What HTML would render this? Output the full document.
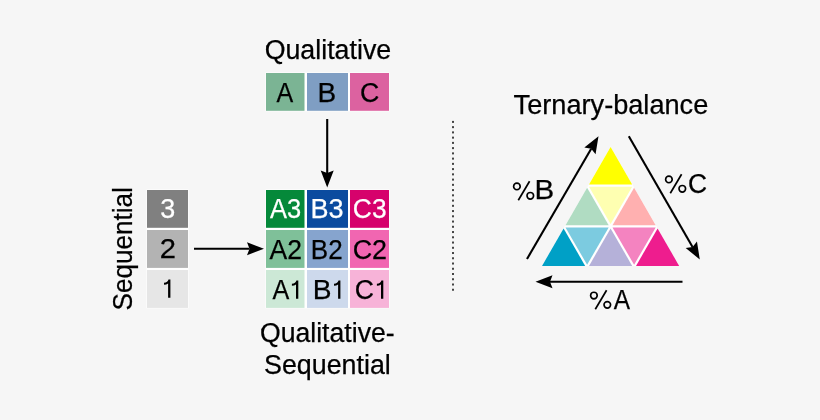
<!DOCTYPE html>
<html><head><meta charset="utf-8"><style>
html,body{margin:0;padding:0;background:#f6f6f6;width:820px;height:420px;overflow:hidden}
svg{display:block;will-change:transform}
text{font-family:"Liberation Sans",sans-serif;stroke:currentColor;stroke-width:0.25px}
</style></head><body>
<svg width="820" height="420" viewBox="0 0 820 420">
<rect width="820" height="420" fill="#f6f6f6"/>
<text x="264.64" y="58.90" font-size="27" fill="#000" style="color:#000" textLength="126.55" lengthAdjust="spacingAndGlyphs">Qualitative</text>
<rect x="265.50" y="72.50" width="124.00" height="38.80" fill="#fff"/>
<rect x="266.00" y="73.00" width="38.50" height="37.80" fill="#7bb494"/>
<rect x="307.00" y="73.00" width="41.00" height="37.80" fill="#7f9ec3"/>
<rect x="350.00" y="73.00" width="39.00" height="37.80" fill="#dc62a0"/>
<text x="276.55" y="101.80" font-size="27" fill="#000" style="color:#000" textLength="16.70" lengthAdjust="spacingAndGlyphs">A</text>
<text x="317.50" y="101.80" font-size="27" fill="#000" style="color:#000" textLength="18.68" lengthAdjust="spacingAndGlyphs">B</text>
<text x="359.94" y="101.80" font-size="27" fill="#000" style="color:#000" textLength="19.28" lengthAdjust="spacingAndGlyphs">C</text>
<rect x="265.50" y="189.50" width="124.00" height="118.90" fill="#fff"/>
<rect x="266.00" y="190.00" width="38.50" height="37.80" fill="#05893a"/>
<rect x="307.00" y="190.00" width="41.00" height="37.80" fill="#0b4b9f"/>
<rect x="350.00" y="190.00" width="39.00" height="37.80" fill="#d6026c"/>
<rect x="266.00" y="230.00" width="38.50" height="37.90" fill="#7fc099"/>
<rect x="307.00" y="230.00" width="41.00" height="37.90" fill="#86a4ce"/>
<rect x="350.00" y="230.00" width="39.00" height="37.90" fill="#f166b1"/>
<rect x="266.00" y="270.00" width="38.50" height="37.90" fill="#cce8d6"/>
<rect x="307.00" y="270.00" width="41.00" height="37.90" fill="#cdd9ec"/>
<rect x="350.00" y="270.00" width="39.00" height="37.90" fill="#f7b3d8"/>
<text x="269.95" y="218.20" font-size="27" fill="#fff" style="color:#fff" textLength="31.18" lengthAdjust="spacingAndGlyphs">A3</text>
<text x="310.48" y="218.20" font-size="27" fill="#fff" style="color:#fff" textLength="33.12" lengthAdjust="spacingAndGlyphs">B3</text>
<text x="352.85" y="218.20" font-size="27" fill="#fff" style="color:#fff" textLength="33.71" lengthAdjust="spacingAndGlyphs">C3</text>
<text x="269.55" y="258.90" font-size="27" fill="#000" style="color:#000" textLength="32.49" lengthAdjust="spacingAndGlyphs">A2</text>
<text x="310.87" y="258.90" font-size="27" fill="#000" style="color:#000" textLength="31.84" lengthAdjust="spacingAndGlyphs">B2</text>
<text x="352.63" y="258.90" font-size="27" fill="#000" style="color:#000" textLength="34.43" lengthAdjust="spacingAndGlyphs">C2</text>
<text x="272.45" y="298.80" font-size="27" fill="#000" style="color:#000" textLength="16.80" lengthAdjust="spacingAndGlyphs">A</text>
<path d="M298.30,298.80 V280.40 H296.40 Q295.70,283.20 291.90,283.80 V285.80 Q294.30,285.80 296.00,284.60 V298.80 Z" fill="#000"/>
<text x="312.69" y="298.80" font-size="27" fill="#000" style="color:#000" textLength="18.81" lengthAdjust="spacingAndGlyphs">B</text>
<path d="M340.40,298.80 V280.40 H338.50 Q337.80,283.20 334.00,283.80 V285.80 Q336.40,285.80 338.10,284.60 V298.80 Z" fill="#000"/>
<text x="354.75" y="298.80" font-size="27" fill="#000" style="color:#000" textLength="19.17" lengthAdjust="spacingAndGlyphs">C</text>
<path d="M383.30,298.80 V280.40 H381.40 Q380.70,283.20 376.90,283.80 V285.80 Q379.30,285.80 381.00,284.60 V298.80 Z" fill="#000"/>
<rect x="146.50" y="189.50" width="42.00" height="118.90" fill="#fff"/>
<rect x="147.00" y="190.00" width="41.00" height="37.80" fill="#808080"/>
<rect x="147.00" y="230.00" width="41.00" height="37.90" fill="#b3b3b3"/>
<rect x="147.00" y="270.00" width="41.00" height="37.90" fill="#e6e6e6"/>
<text x="160.17" y="218.30" font-size="27" fill="#fff" style="color:#fff" textLength="15.02" lengthAdjust="spacingAndGlyphs">3</text>
<text x="159.74" y="257.70" font-size="27" fill="#000" style="color:#000" textLength="16.22" lengthAdjust="spacingAndGlyphs">2</text>
<path d="M170.40,297.80 V279.40 H168.50 Q167.80,282.20 164.00,282.80 V284.80 Q166.40,284.80 168.10,283.60 V297.80 Z" fill="#000"/>
<line x1="327.20" y1="119.00" x2="327.20" y2="173.00" stroke="#000" stroke-width="2.1"/>
<polygon points="327.20,187.50 333.70,170.50 327.20,173.00 320.70,170.50" fill="#000"/>
<line x1="194.00" y1="248.70" x2="249.50" y2="248.70" stroke="#000" stroke-width="2.1"/>
<polygon points="264.00,248.70 247.00,242.20 249.50,248.70 247.00,255.20" fill="#000"/>
<g transform="translate(131.9,309.3) rotate(-90)"><text x="-1.20" y="0" font-size="27" textLength="123.35" lengthAdjust="spacingAndGlyphs">Sequential</text></g>
<text x="259.95" y="342.00" font-size="27" fill="#000" style="color:#000" textLength="134.71" lengthAdjust="spacingAndGlyphs">Qualitative-</text>
<text x="264.07" y="374.20" font-size="27" fill="#000" style="color:#000" textLength="126.73" lengthAdjust="spacingAndGlyphs">Sequential</text>
<rect x="452" y="120.90" width="2" height="2" fill="#444"/>
<rect x="452" y="126.15" width="2" height="2" fill="#444"/>
<rect x="452" y="131.39" width="2" height="2" fill="#444"/>
<rect x="452" y="136.64" width="2" height="2" fill="#444"/>
<rect x="452" y="141.88" width="2" height="2" fill="#444"/>
<rect x="452" y="147.13" width="2" height="2" fill="#444"/>
<rect x="452" y="152.37" width="2" height="2" fill="#444"/>
<rect x="452" y="157.62" width="2" height="2" fill="#444"/>
<rect x="452" y="162.86" width="2" height="2" fill="#444"/>
<rect x="452" y="168.11" width="2" height="2" fill="#444"/>
<rect x="452" y="173.35" width="2" height="2" fill="#444"/>
<rect x="452" y="178.60" width="2" height="2" fill="#444"/>
<rect x="452" y="183.84" width="2" height="2" fill="#444"/>
<rect x="452" y="189.09" width="2" height="2" fill="#444"/>
<rect x="452" y="194.33" width="2" height="2" fill="#444"/>
<rect x="452" y="199.58" width="2" height="2" fill="#444"/>
<rect x="452" y="204.82" width="2" height="2" fill="#444"/>
<rect x="452" y="210.07" width="2" height="2" fill="#444"/>
<rect x="452" y="215.31" width="2" height="2" fill="#444"/>
<rect x="452" y="220.56" width="2" height="2" fill="#444"/>
<rect x="452" y="225.80" width="2" height="2" fill="#444"/>
<rect x="452" y="231.05" width="2" height="2" fill="#444"/>
<rect x="452" y="236.29" width="2" height="2" fill="#444"/>
<rect x="452" y="241.54" width="2" height="2" fill="#444"/>
<rect x="452" y="246.78" width="2" height="2" fill="#444"/>
<rect x="452" y="252.03" width="2" height="2" fill="#444"/>
<rect x="452" y="257.27" width="2" height="2" fill="#444"/>
<rect x="452" y="262.52" width="2" height="2" fill="#444"/>
<rect x="452" y="267.76" width="2" height="2" fill="#444"/>
<rect x="452" y="273.01" width="2" height="2" fill="#444"/>
<rect x="452" y="278.25" width="2" height="2" fill="#444"/>
<rect x="452" y="283.50" width="2" height="2" fill="#444"/>
<rect x="452" y="288.74" width="2" height="2" fill="#444"/>
<text x="513.60" y="113.90" font-size="27" fill="#000" style="color:#000" textLength="194.70" lengthAdjust="spacingAndGlyphs">Ternary-balance</text>
<polygon points="541.75,266.05 679.45,266.05 610.60,146.79" fill="#fff"/>
<polygon points="589.01,184.49 632.19,184.49 610.60,147.09" fill="#ffff00"/>
<polygon points="565.51,225.20 608.69,225.20 587.10,187.79" fill="#b0dcc2"/>
<polygon points="589.01,186.69 632.19,186.69 610.60,224.10" fill="#feffb1"/>
<polygon points="612.51,225.20 655.69,225.20 634.10,187.79" fill="#ffb0b0"/>
<polygon points="542.01,265.90 585.19,265.90 563.60,228.50" fill="#00a0c6"/>
<polygon points="565.51,227.40 608.69,227.40 587.10,264.80" fill="#7ccbe0"/>
<polygon points="589.01,265.90 632.19,265.90 610.60,228.50" fill="#b5b1d9"/>
<polygon points="612.51,227.40 655.69,227.40 634.10,264.80" fill="#f483c0"/>
<polygon points="636.01,265.90 679.19,265.90 657.60,228.50" fill="#ee1d8e"/>
<line x1="527.00" y1="259.00" x2="591.20" y2="148.73" stroke="#000" stroke-width="2.1"/>
<polygon points="598.50,136.20 584.33,147.62 591.20,148.73 595.56,154.16" fill="#000"/>
<line x1="628.80" y1="136.20" x2="692.56" y2="246.93" stroke="#000" stroke-width="2.1"/>
<polygon points="699.80,259.50 696.95,241.52 692.56,246.93 685.68,248.01" fill="#000"/>
<line x1="682.50" y1="281.80" x2="550.00" y2="281.71" stroke="#000" stroke-width="2.1"/>
<polygon points="535.50,281.70 552.50,288.21 550.00,281.71 552.50,275.21" fill="#000"/>
<circle cx="516.90" cy="186.40" r="3.3" fill="none" stroke="#000" stroke-width="1.65"/>
<circle cx="530.30" cy="195.75" r="3.3" fill="none" stroke="#000" stroke-width="1.65"/>
<line x1="518.30" y1="200.20" x2="529.60" y2="181.20" stroke="#000" stroke-width="1.7"/>
<text x="534.48" y="199.00" font-size="27" fill="#000" style="color:#000" textLength="19.68" lengthAdjust="spacingAndGlyphs">B</text>
<circle cx="668.90" cy="179.40" r="3.3" fill="none" stroke="#000" stroke-width="1.65"/>
<circle cx="682.30" cy="188.75" r="3.3" fill="none" stroke="#000" stroke-width="1.65"/>
<line x1="670.30" y1="193.20" x2="681.60" y2="174.20" stroke="#000" stroke-width="1.7"/>
<text x="687.95" y="193.30" font-size="27" fill="#000" style="color:#000" textLength="19.05" lengthAdjust="spacingAndGlyphs">C</text>
<circle cx="593.90" cy="295.50" r="3.3" fill="none" stroke="#000" stroke-width="1.65"/>
<circle cx="607.30" cy="304.85" r="3.3" fill="none" stroke="#000" stroke-width="1.65"/>
<line x1="595.30" y1="309.30" x2="606.60" y2="290.30" stroke="#000" stroke-width="1.7"/>
<text x="613.75" y="308.80" font-size="27" fill="#000" style="color:#000" textLength="16.30" lengthAdjust="spacingAndGlyphs">A</text>
</svg>
</body></html>
